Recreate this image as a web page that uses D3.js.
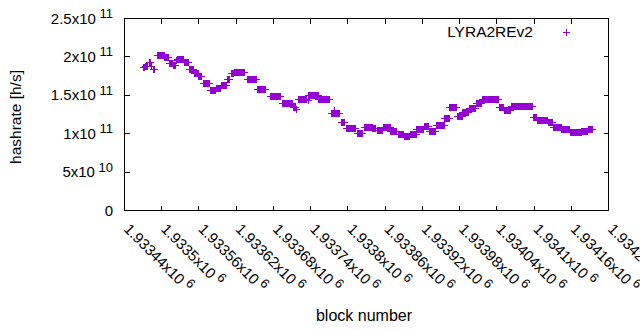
<!DOCTYPE html>
<html>
<head>
<meta charset="utf-8">
<script src="https://cdn.jsdelivr.net/npm/d3@7"></script>
<style>
  body { margin: 0; background: #fff; }
  svg text { font-family: "Liberation Sans", Arial, sans-serif; fill: #000; }
</style>
</head>
<body>
<svg id="chart" width="640" height="330"></svg>
<script>
// runs of blocks with the same hashrate (start block, end block, value in h/s)
const runStart = [1933471, 1933474, 1933480, 1933483, 1933486, 1933493, 1933505, 1933512, 1933519, 1933524,
  1933525, 1933536, 1933545, 1933553, 1933560, 1933567, 1933578, 1933588, 1933596, 1933606,
  1933612, 1933617, 1933638, 1933654, 1933675, 1933694, 1933712, 1933717, 1933720, 1933736,
  1933737, 1933753, 1933773, 1933778, 1933779, 1933789, 1933797, 1933815, 1933826, 1933840,
  1933847, 1933858, 1933869, 1933881, 1933892, 1933901, 1933911, 1933924, 1933932, 1933943,
  1933956, 1933964, 1933977, 1933985, 1933996, 1934008, 1934017, 1934033, 1934045, 1934053,
  1934064, 1934099, 1934106, 1934123, 1934131, 1934145, 1934159, 1934177, 1934188];
const runEnd = [1933473, 1933477, 1933482, 1933484, 1933489, 1933504, 1933511, 1933517, 1933522, 1933524,
  1933535, 1933543, 1933551, 1933559, 1933564, 1933577, 1933586, 1933594, 1933604, 1933610,
  1933616, 1933633, 1933652, 1933668, 1933691, 1933710, 1933716, 1933717, 1933733, 1933736,
  1933752, 1933771, 1933777, 1933778, 1933787, 1933795, 1933813, 1933824, 1933839, 1933845,
  1933856, 1933868, 1933879, 1933890, 1933900, 1933910, 1933922, 1933930, 1933942, 1933955,
  1933963, 1933975, 1933984, 1933995, 1934006, 1934016, 1934032, 1934043, 1934051, 1934062,
  1934098, 1934104, 1934122, 1934130, 1934144, 1934157, 1934176, 1934186, 1934194];
const runValue = [1.86e11, 1.88e11, 1.93e11, 1.87e11, 1.84e11, 2.02e11, 1.99e11, 1.92e11, 1.89e11, 1.95e11,
  1.97e11, 1.93e11, 1.84e11, 1.78e11, 1.75e11, 1.65e11, 1.56e11, 1.59e11, 1.63e11, 1.70e11,
  1.78e11, 1.80e11, 1.71e11, 1.58e11, 1.49e11, 1.39e11, 1.34e11, 1.31e11, 1.45e11, 1.43e11,
  1.50e11, 1.45e11, 1.26e11, 1.30e11, 1.26e11, 1.15e11, 1.07e11, 1.00e11, 1.08e11, 1.07e11,
  1.04e11, 1.08e11, 1.03e11, 0.99e11, 0.965e11, 0.99e11, 1.055e11, 1.095e11, 1.03e11, 1.105e11,
  1.20e11, 1.34e11, 1.225e11, 1.275e11, 1.33e11, 1.39e11, 1.45e11, 1.445e11, 1.34e11, 1.30e11,
  1.355e11, 1.21e11, 1.17e11, 1.15e11, 1.08e11, 1.055e11, 1.01e11, 1.025e11, 1.06e11];

// axis ticks and labels
const xTicks = [1933440, 1933500, 1933560, 1933620, 1933680, 1933740, 1933800, 1933860,
  1933920, 1933980, 1934040, 1934100, 1934160, 1934220];
const xTickMantissa = ["1.93344x10", "1.9335x10", "1.93356x10", "1.93362x10", "1.93368x10", "1.93374x10", "1.9338x10",
  "1.93386x10", "1.93392x10", "1.93398x10", "1.93404x10", "1.9341x10", "1.93416x10", "1.93422x10"];
const xTickExp = "6";
const yTicks = [0, 5e10, 1e11, 1.5e11, 2e11, 2.5e11];
const yTickMantissa = ["0", "5x10", "1x10", "1.5x10", "2x10", "2.5x10"];
const yTickExp = ["", "10", "11", "11", "11", "11"];

const seriesName = "LYRA2REv2";
const seriesColor = "#9400d3";

// 1) scales
const svg = d3.select("#chart");
const plotLeft = 124, plotRight = 608, plotTop = 18, plotBottom = 210;
const xScale = d3.scaleLinear().domain([1933440, 1934220]).range([plotLeft, plotRight]);
const yScale = d3.scaleLinear().domain([0, 2.5e11]).range([plotBottom, plotTop]);
const px = v => Math.round(v) + 0.5;

// 2) points: one per block
const points = [];
runStart.forEach((s, i) => {
  for (let b = s; b <= runEnd[i]; b++) points.push({ block: b, value: runValue[i] });
});

// 3) frame + ticks (mirrored like gnuplot)
const axes = svg.append("g").attr("stroke", "#000").attr("stroke-width", 1)
  .attr("shape-rendering", "crispEdges").attr("fill", "none");
axes.append("rect")
  .attr("x", px(plotLeft)).attr("y", px(plotTop))
  .attr("width", plotRight - plotLeft).attr("height", plotBottom - plotTop);
const tl = 5;
yTicks.forEach(t => {
  const y = px(yScale(t));
  axes.append("line").attr("x1", px(plotLeft)).attr("x2", px(plotLeft) + tl).attr("y1", y).attr("y2", y);
  axes.append("line").attr("x1", px(plotRight)).attr("x2", px(plotRight) - tl).attr("y1", y).attr("y2", y);
});
xTicks.forEach(t => {
  const x = px(xScale(t));
  axes.append("line").attr("x1", x).attr("x2", x).attr("y1", px(plotBottom)).attr("y2", px(plotBottom) - tl);
  axes.append("line").attr("x1", x).attr("x2", x).attr("y1", px(plotTop)).attr("y2", px(plotTop) + tl);
});

// 4) tick labels with superscript exponent
yTicks.forEach((t, i) => {
  const txt = svg.append("text")
    .attr("x", 113).attr("y", yScale(t) + 5.5)
    .attr("text-anchor", "end").attr("font-size", 15);
  txt.append("tspan").text(yTickMantissa[i]);
  if (yTickExp[i]) txt.append("tspan").attr("dy", -5.5).attr("font-size", 13).text(" " + yTickExp[i]);
});
xTicks.forEach((t, i) => {
  const x = xScale(t);
  const txt = svg.append("text")
    .attr("transform", `translate(${x - 1},230) rotate(45)`)
    .attr("font-size", 15);
  txt.append("tspan").text(xTickMantissa[i]);
  txt.append("tspan").attr("dy", -5.5).attr("font-size", 13).text(" " + xTickExp);
});

// 5) axis titles
svg.append("text")
  .attr("transform", "translate(21,117) rotate(-90)")
  .attr("text-anchor", "middle").attr("font-size", 15.5)
  .text("hashrate [h/s]");
svg.append("text")
  .attr("x", 364).attr("y", 321)
  .attr("text-anchor", "middle").attr("font-size", 16)
  .text("block number");

// 6) data points as "+"
const cross = (x, y) => `M${x - 3.5},${y}h7M${x},${y - 3.5}v7`;
svg.append("g")
  .attr("stroke", seriesColor).attr("stroke-width", 1).attr("fill", "none")
  .attr("shape-rendering", "crispEdges")
  .selectAll("path")
  .data(points)
  .enter()
  .append("path")
  .attr("d", d => cross(px(xScale(d.block)), px(yScale(d.value))));

// 7) legend
svg.append("text")
  .attr("x", 533).attr("y", 37)
  .attr("text-anchor", "end").attr("font-size", 15.5)
  .text(seriesName);
svg.append("path")
  .attr("d", cross(566.5, 32.5))
  .attr("stroke", seriesColor).attr("stroke-width", 1)
  .attr("shape-rendering", "crispEdges");
</script>
</body>
</html>
